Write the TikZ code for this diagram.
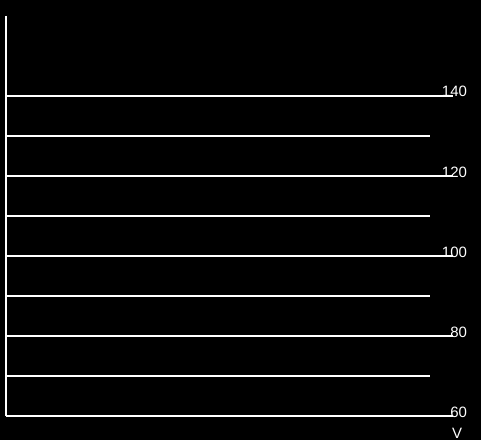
\documentclass[tikz,border=0pt]{standalone}
\usepackage{fontspec}
\setmainfont{Liberation Sans}
\begin{document}
\begin{tikzpicture}[x=1pt,y=1pt,line width=2pt,white,
  tick/.style={font=\fontsize{15}{15}\selectfont,text=white,inner sep=0pt,anchor=base east}]
\fill[black] (0,0) rectangle (481,440);
\useasboundingbox (0,0) rectangle (481,440);
\coordinate (top) at (6,424);
\coordinate (origin) at (6,24);
\draw (top) -- (origin);
\draw (6,344) -- (453,344);
\draw (6,304) -- (430,304);
\draw (6,264) -- (453,264);
\draw (6,224) -- (430,224);
\draw (6,184) -- (453,184);
\draw (6,144) -- (430,144);
\draw (6,104) -- (453,104);
\draw (6,64) -- (430,64);
\draw (origin) -- (453,24);

\node[tick] (l140) at (468,343) {140};
\node[tick] (l120) at (468,263) {120};
\node[tick] (l100) at (468,183) {100};
\node[tick] (l80) at (468,103) {80};
\node[tick] (l60) at (468,23) {60};
\node[tick,anchor=north] (unit) at (457,13) {V};
\end{tikzpicture}
\end{document}
